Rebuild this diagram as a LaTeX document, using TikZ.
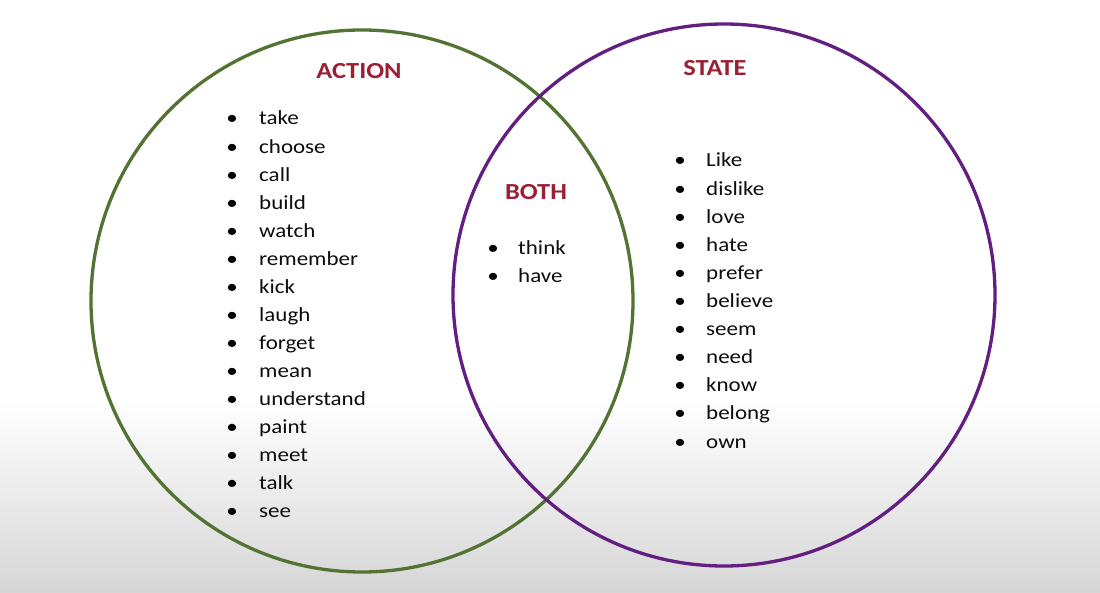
\documentclass[tikz,border=0pt]{standalone}
\usepackage{fontspec}
\setmainfont{Carlito}[FakeStretch=1.15]
\definecolor{headred}{RGB}{155,32,52}
\definecolor{ringgreen}{RGB}{82,115,50}
\definecolor{ringpurple}{RGB}{98,30,128}
\definecolor{bggray}{RGB}{214,214,214}
\begin{document}
\begin{tikzpicture}[x=1pt,y=1pt,
  item/.style={anchor=base west, inner sep=0pt, font=\fontsize{20}{24}\selectfont, text=black!95},
  bul/.style={anchor=base, inner sep=0pt, font=\fontsize{20}{24}\selectfont, text=black},
  head/.style={anchor=base, inner sep=0pt, font=\fontsize{23}{27}\selectfont\bfseries, text=headred},
  ring/.style={circle, draw, line width=3.3pt, minimum size=542pt, inner sep=0pt}]
\useasboundingbox (0,0) rectangle (1100,-593);
\fill[white] (0,0) rectangle (1100,-400);
\shade[top color=white, bottom color=bggray] (0,-400) rectangle (1100,-593);
\node[ring, draw=ringgreen] (action) at (362,-301) {};
\node[ring, draw=ringpurple] (state) at (724,-295) {};
\node[head] (hAction) at (359,-79) {ACTION};
\node[head] (hBoth) at (536,-200) {BOTH};
\node[head] (hState) at (715,-76) {STATE};
\foreach \w [count=\i from 0] in {take,choose,call,build,watch,remember,kick,laugh,forget,mean,understand,paint,meet,talk,see}{
  \node[bul] (ab\i) at (232,{-125-28.07*\i}) {•};
  \node[item] (a\i) at (259,{-125-28.07*\i}) {\w};
}
\foreach \w [count=\i from 0] in {think,have}{
  \node[bul] (bb\i) at (493,{-255-28*\i}) {•};
  \node[item] (b\i) at (518,{-255-28*\i}) {\w};
}
\foreach \w [count=\i from 0] in {Like,dislike,love,hate,prefer,believe,seem,need,know,belong,own}{
  \node[bul] (sb\i) at (680,{-167-28.1*\i}) {•};
  \node[item] (s\i) at (706,{-167-28.1*\i}) {\w};
}
\end{tikzpicture}
\end{document}
